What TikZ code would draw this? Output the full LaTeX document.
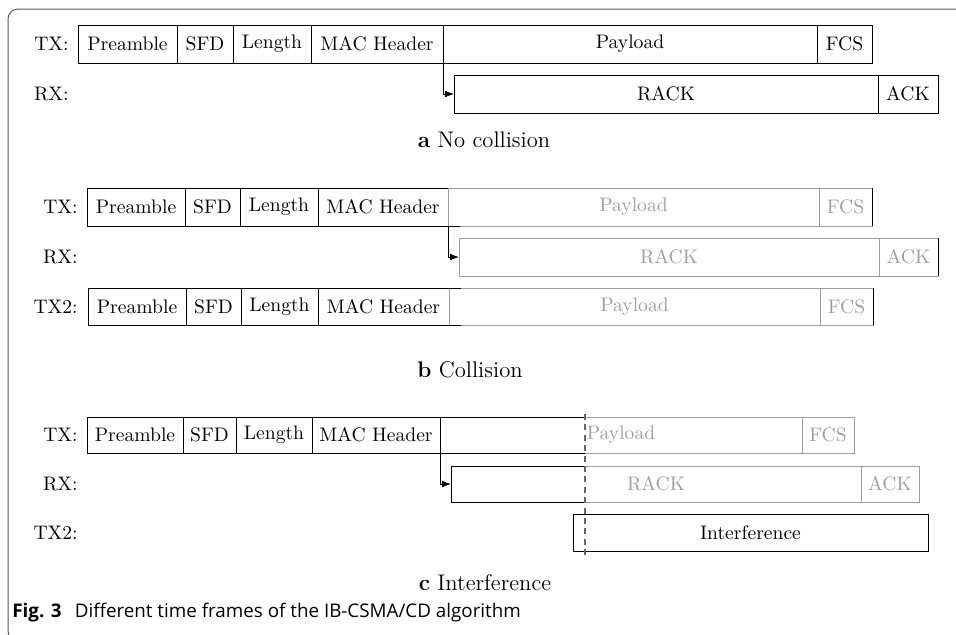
\documentclass[tikz,border=0pt]{standalone}
\usepackage{fontspec}
\newfontfamily\capfont{Open Sans}
\usetikzlibrary{arrows.meta}
\definecolor{gr}{gray}{0.62}
\definecolor{framec}{gray}{0.35}
\definecolor{dashc}{gray}{0.4}
% #1 name, #2 style, #3 x1, #4 x2, #5 y1, #6 y2, #7 text
\newcommand\seg[7]{%
  \node[#2, anchor=north west, minimum width={(#4-#3)*0.5pt}, minimum height={(#6-#5)*0.5pt}] (#1) at (#3,#5) {#7};}
\begin{document}
\begin{tikzpicture}[x=0.5pt,y=-0.5pt,
  sg/.style={draw, line width=0.45pt, inner sep=0pt, outer sep=0pt, font=\fontsize{9.8}{11}\selectfont},
  grsg/.style={sg, draw=gr, text=gr},
  nosg/.style={sg, draw=none, text=gr},
  lab/.style={anchor=east, inner sep=0pt, font=\fontsize{9.8}{11}\selectfont},
  subcap/.style={anchor=base, inner sep=0pt, font=\fontsize{11.3}{13}\selectfont},
  arr/.style={line width=0.45pt, -{Latex[length=4.5pt,width=3.4pt]}},
  blk/.style={line width=0.45pt},
  grl/.style={line width=0.45pt, draw=gr}]
\useasboundingbox (0,0) rectangle (956,634);
% frame
\draw[framec, line width=0.5pt, rounded corners=5pt] (970,9) -- (8,9) -- (8,641) -- (970,641);

% ---------- panel a ----------
\node[lab] (aTXl) at (69,44) {TX:};
\node[lab] (aRXl) at (69,94) {RX:};
\seg{aPre}{sg}{78}{177}{25}{63}{Preamble}
\seg{aSFD}{sg}{177}{233}{25}{63}{SFD}
\seg{aLen}{sg}{233}{311}{25}{63}{Length}
\seg{aMAC}{sg}{311}{443}{25}{63}{MAC Header}
\seg{aPay}{sg}{443}{817}{25}{63}{Payload}
\seg{aFCS}{sg}{817}{872}{25}{63}{FCS}
\seg{aRACK}{sg}{454}{878}{75}{113}{RACK}
\seg{aACK}{sg}{878}{938}{75}{113}{ACK}
\draw[arr] (aMAC.south east) |- (aRACK.west);
\node[subcap] (capA) at (484,147) {\textbf{a} No collision};

% ---------- panel b ----------
\node[lab] (bTXl) at (78,207) {TX:};
\node[lab] (bRXl) at (78,257) {RX:};
\node[lab] (bTX2l) at (78,306.5) {TX2:};
\seg{bPre}{sg}{87}{185}{188}{226}{Preamble}
\seg{bSFD}{sg}{185}{240}{188}{226}{SFD}
\seg{bLen}{sg}{240}{318}{188}{226}{Length}
\seg{bMAC}{sg}{318}{448}{188}{226}{MAC Header}
\seg{bPay}{grsg}{448}{819}{188}{226}{Payload}
\seg{bFCS}{grsg}{819}{872}{188}{226}{FCS}
\seg{bRACK}{grsg}{459}{879}{238}{276}{RACK}
\seg{bACK}{grsg}{879}{938}{238}{276}{ACK}
\seg{bPre2}{sg}{88}{186}{288}{325}{Preamble}
\seg{bSFD2}{sg}{186}{241}{288}{325}{SFD}
\seg{bLen2}{sg}{241}{318}{288}{325}{Length}
\seg{bMAC2}{sg}{318}{449}{288}{325}{MAC Header}
\seg{bPay2}{grsg}{449}{820}{288}{325}{Payload}
\seg{bFCS2}{grsg}{820}{873}{288}{325}{FCS}
\draw[blk] (bFCS.north east) -- (bFCS.south east);
\draw[blk] (bACK.north east) -- (bACK.south east);
\draw[blk] (bFCS2.north east) -- (bFCS2.south east);
\draw[blk] (bPay.south west) -- ++(12,0);
\draw[blk] (bPay2.south west) -- ++(12,0);
\draw[blk] (bPay2.north west) -- ++(12,0);
\draw[arr] (bMAC.south east) |- (bRACK.west);
\node[subcap] (capB) at (470,377) {\textbf{b} Collision};

% ---------- panel c ----------
\node[lab] (cTXl) at (78,435) {TX:};
\node[lab] (cRXl) at (78,484) {RX:};
\node[lab] (cTX2l) at (78,532.5) {TX2:};
\seg{cPre}{sg}{87}{183}{417}{453}{Preamble}
\seg{cSFD}{sg}{183}{236}{417}{453}{SFD}
\seg{cLen}{sg}{236}{312}{417}{453}{Length}
\seg{cMAC}{sg}{312}{440}{417}{453}{MAC Header}
\seg{cPay}{nosg}{440}{802}{417}{453}{Payload}
\seg{cFCS}{grsg}{802}{854}{417}{453}{FCS}
\seg{cRACK}{nosg}{451}{861}{466}{502}{RACK}
\seg{cACK}{grsg}{861}{919}{466}{502}{ACK}
\seg{cInt}{sg}{573}{928}{514}{551}{Interference}
\coordinate (cutT) at (585,414);
\coordinate (cutB) at (585,556);
\draw[blk] (cutT |- cPay.north) -- (cPay.north west) -- (cPay.south west) -- (cutT |- cPay.south);
\draw[grl] (cutT |- cPay.north) -- (cPay.north east) -- (cPay.south east) -- (cutT |- cPay.south);
\draw[blk] (cutT |- cRACK.north) -- (cRACK.north west) -- (cRACK.south west) -- (cutT |- cRACK.south);
\draw[grl] (cutT |- cRACK.north) -- (cRACK.north east) -- (cRACK.south east) -- (cutT |- cRACK.south);
\draw[dashc, line width=0.55pt, dash pattern=on 3pt off 2.2pt] (cutT) -- (cutB);
\draw[arr] (cMAC.south east) |- (cRACK.west);
\node[subcap] (capC) at (485,590) {\textbf{c} Interference};

% ---------- figure caption ----------
\node[anchor=base west, inner sep=0pt, font=\capfont\fontsize{9.4}{11}\selectfont] (figcap) at (12,617)
  {\textbf{Fig. 3}\hspace{0.7em}Different time frames of the IB-CSMA/CD algorithm};
\end{tikzpicture}
\end{document}
